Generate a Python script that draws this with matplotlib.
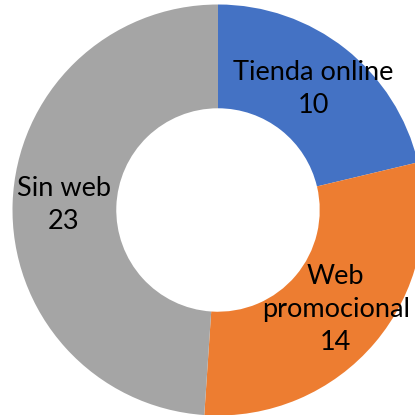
import matplotlib.pyplot as plt

# datos
categorias = ["Tienda online", "Web promocional", "Sin web"]
etiquetas = ["Tienda online", "Web\npromocional", "Sin web"]
valores = [10, 14, 23]
colores = ["#4472C4", "#ED7D31", "#A5A5A5"]

fig = plt.figure(figsize=(4.15, 4.15), dpi=100)
ax = fig.add_axes([0, 0, 1, 1])

textos = [f"{e}\n{v}" for e, v in zip(etiquetas, valores)]
wedges, texts = ax.pie(valores, colors=colores, startangle=90, counterclock=False,
                       radius=1, labels=textos, labeldistance=0.75,
                       wedgeprops=dict(width=0.505, edgecolor="none"),
                       textprops=dict(fontsize=19.5, family="Lato", color="black",
                                      linespacing=1.4))
for t in texts:
    t.set_ha("center")
    t.set_va("center")

# el anillo queda un poco recortado por la derecha, como en el original
escala = 205.5
ax.set_xlim(-218 / escala, (415 - 218) / escala)
ax.set_ylim(-(415 - 210) / escala, 210 / escala)
ax.set_aspect("auto")
ax.axis("off")

fig.savefig("out.png", dpi=100)
